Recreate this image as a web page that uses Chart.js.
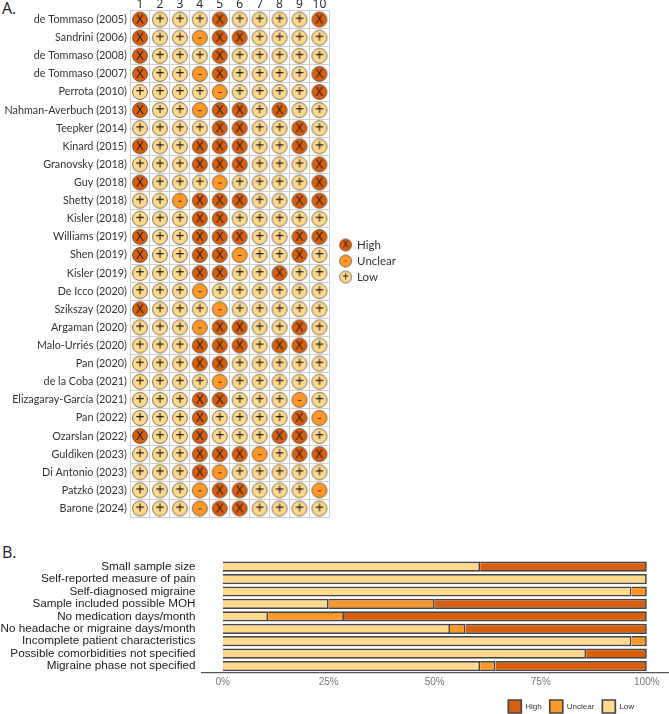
<!DOCTYPE html>
<html>
<head>
<meta charset="utf-8">
<script src="https://cdn.jsdelivr.net/npm/chart.js@4"></script>
<style>
  html, body { margin: 0; background: #fff; overflow: hidden; height: 714px; }
  canvas { position: absolute; left: 0; }
  #riskChart { top: 0; }
  #summaryChart { top: 545px; }
  .panel { position: absolute; left: 2px; font: 16px "Open Sans", sans-serif; color: #222; }
</style>
</head>
<body>
<div class="panel" style="top:-3px">A.</div>
<div class="panel" style="top:541px">B.</div>
<canvas id="riskChart" width="400" height="527"></canvas>
<canvas id="summaryChart" width="669" height="178"></canvas>
<script>
// Panel A: one judgement per domain, H = high, U = unclear, L = low
var studies = [
  'de Tommaso (2005)', 'Sandrini (2006)', 'de Tommaso (2008)', 'de Tommaso (2007)',
  'Perrota (2010)', 'Nahman-Averbuch (2013)', 'Teepker (2014)', 'Kinard (2015)',
  'Granovsky (2018)', 'Guy (2018)', 'Shetty (2018)', 'Kisler (2018)', 'Williams (2019)',
  'Shen (2019)', 'Kisler (2019)', 'De Icco (2020)', 'Szikszay (2020)', 'Argaman (2020)',
  'Malo-Urriés (2020)', 'Pan (2020)', 'de la Coba (2021)', 'Elizagaray-García (2021)',
  'Pan (2022)', 'Ozarslan (2022)', 'Guldiken (2023)', 'Di Antonio (2023)',
  'Patzkó (2023)', 'Barone (2024)'
];
var domains = ['1', '2', '3', '4', '5', '6', '7', '8', '9', '10'];
var judgements = [
  'HLLLHLLLLH', 'HLLUHHLLLL', 'HLLLHLLLLL', 'HLLUHLLLLH',
  'LLLLULLLLH', 'HLLUHHLHLL', 'LLLLHHLLHL', 'HLLHHHLLHL',
  'LLLHHHLLLH', 'HLLLULLLLH', 'LLUHHHLLHH', 'LLLHHLLLLL', 'HLLHHHLLHH',
  'HLLHHULLHL', 'LLLHHLLHLL', 'LLLULLLLLL', 'HLLLULLLLL', 'LLLUHHLLHL',
  'LLLHHHLHHL', 'LLLHHLLLLL', 'LLLLULLLLL', 'LLLHHLLLUL',
  'LLLHLLLLHU', 'HLLHLLLHHL', 'LLLHHHULHH', 'LLLHULLLLL',
  'LLLUHHLLLU', 'LLLUHHLLLL'
];

// Panel B: percentages per item
var items = [
  'Small sample size', 'Self-reported measure of pain', 'Self-diagnosed migraine',
  'Sample included possible MOH', 'No medication days/month',
  'No headache or migraine days/month', 'Incomplete patient characteristics',
  'Possible comorbidities not specified', 'Migraine phase not specified'
];
var lowPct     = [60.7, 100, 96.4, 25, 10.7, 53.6, 96.4, 85.7, 60.7];
var unclearPct = [0, 0, 3.6, 25, 17.9, 3.6, 3.6, 0, 3.6];
var highPct    = [39.3, 0, 0, 50, 71.4, 42.8, 0, 14.3, 35.7];
var percentTicks = [0, 25, 50, 75, 100];

var colors = { H: '#d95f0e', U: '#fe9929', L: '#fed98e' };
var names = { H: 'High', U: 'Unclear', L: 'Low' };
var glyphs = { H: 'X', U: '-', L: '+' };

// Dibuja el círculo con su símbolo para usarlo como pointStyle
function makeIcon(level, r, size) {
  var c = document.createElement('canvas');
  c.width = c.height = 2 * r + 3;
  var ctx = c.getContext('2d');
  var m = c.width / 2;
  ctx.beginPath();
  ctx.arc(m, m, r, 0, Math.PI * 2);
  ctx.fillStyle = colors[level];
  ctx.fill();
  ctx.strokeStyle = 'rgba(60,50,35,0.65)';
  ctx.lineWidth = 1;
  ctx.stroke();
  ctx.fillStyle = '#1a1a1a';
  ctx.font = (level === 'L' ? size + 3 : size) + 'px "Open Sans", sans-serif';
  ctx.textAlign = 'center';
  ctx.textBaseline = 'middle';
  ctx.fillText(glyphs[level], m, m);
  return c;
}

function pointsFor(level) {
  var pts = [];
  judgements.forEach(function(row, i) {
    row.split('').forEach(function(j, k) {
      if (j === level) pts.push({ x: domains[k], y: studies[i] });
    });
  });
  return pts;
}

// Mueve la leyenda después del layout
var nudgeLegend = {
  id: 'nudgeLegend',
  afterLayout: function(chart, args, opts) {
    chart.legend.left += opts.left || 0;
    chart.legend.right -= opts.right || 0;
    chart.legend.bottom -= opts.bottom || 0;
  }
};

new Chart(document.getElementById('riskChart'), {
  type: 'scatter',
  plugins: [nudgeLegend],
  data: {
    datasets: ['H', 'U', 'L'].map(function(level) {
      return {
        label: names[level],
        data: pointsFor(level),
        pointStyle: makeIcon(level, 7.5, 13),
        backgroundColor: colors[level]
      };
    })
  },
  options: {
    responsive: false,
    animation: false,
    scales: {
      x: {
        type: 'category',
        labels: domains,
        position: 'top',
        offset: true,
        afterFit: function(scale) { scale.height = 10.5; },
        grid: { offset: true, color: '#cfcfcf', drawTicks: false },
        border: { color: '#cfcfcf' },
        ticks: { padding: -1, color: '#222', maxRotation: 0, font: { family: 'Open Sans', size: 12 } }
      },
      y: {
        type: 'category',
        labels: studies,
        offset: true,
        afterFit: function(scale) { scale.width = 130; },
        grid: { offset: true, color: '#cfcfcf', drawTicks: false },
        border: { color: '#cfcfcf' },
        ticks: { padding: 3, color: '#333', autoSkip: false, font: { family: 'Lato', size: 10.8 } }
      }
    },
    plugins: {
      tooltip: { enabled: false },
      nudgeLegend: { bottom: 5, left: 6 },
      legend: {
        position: 'right',
        labels: {
          usePointStyle: true,
          color: '#333',
          padding: 4.5,
          font: { family: 'Lato', size: 11.5 },
          generateLabels: function() {
            return ['H', 'U', 'L'].map(function(level) {
              return { text: names[level], pointStyle: makeIcon(level, 6, 9), fontColor: '#333', lineWidth: 0 };
            });
          }
        }
      }
    }
  }
});

function barSet(label, values, color) {
  return { label: label, data: values, backgroundColor: color, borderColor: '#454545', borderWidth: 1.7 };
}

new Chart(document.getElementById('summaryChart'), {
  type: 'bar',
  plugins: [nudgeLegend],
  data: {
    labels: items,
    datasets: [
      barSet('Low', lowPct, colors.L),
      barSet('Unclear', unclearPct, colors.U),
      barSet('High', highPct, colors.H)
    ]
  },
  options: {
    indexAxis: 'y',
    responsive: false,
    animation: false,
    layout: { padding: { top: 15.4, left: 0, right: 1 } },
    categoryPercentage: 1,
    barPercentage: 0.82,
    scales: {
      x: {
        stacked: true,
        min: -5,
        max: 105,
        afterBuildTicks: function(axis) {
          axis.ticks = percentTicks.map(function(v) { return { value: v }; });
        },
        afterFit: function(scale) { scale.height = 19.7; },
        grid: { display: false, drawTicks: false },
        border: { color: '#555', width: 1.2 },
        ticks: {
          color: '#777',
          padding: 4,
          font: { family: 'Liberation Sans', size: 10 },
          callback: function(v) { return v + '%'; }
        }
      },
      y: {
        stacked: true,
        offset: true,
        afterFit: function(scale) { scale.width = 201.5; },
        grid: { display: false, drawTicks: false },
        border: { display: false },
        ticks: { color: '#222', padding: 6, autoSkip: false, font: { family: 'Liberation Sans', size: 11.7 } }
      }
    },
    plugins: {
      tooltip: { enabled: false },
      nudgeLegend: { right: 26 },
      legend: {
        position: 'bottom',
        align: 'end',
        reverse: true,
        labels: {
          boxWidth: 13,
          boxHeight: 13,
          padding: 8,
          color: '#333',
          font: { family: 'Liberation Sans', size: 8 }
        }
      }
    }
  }
});
</script>
</body>
</html>
